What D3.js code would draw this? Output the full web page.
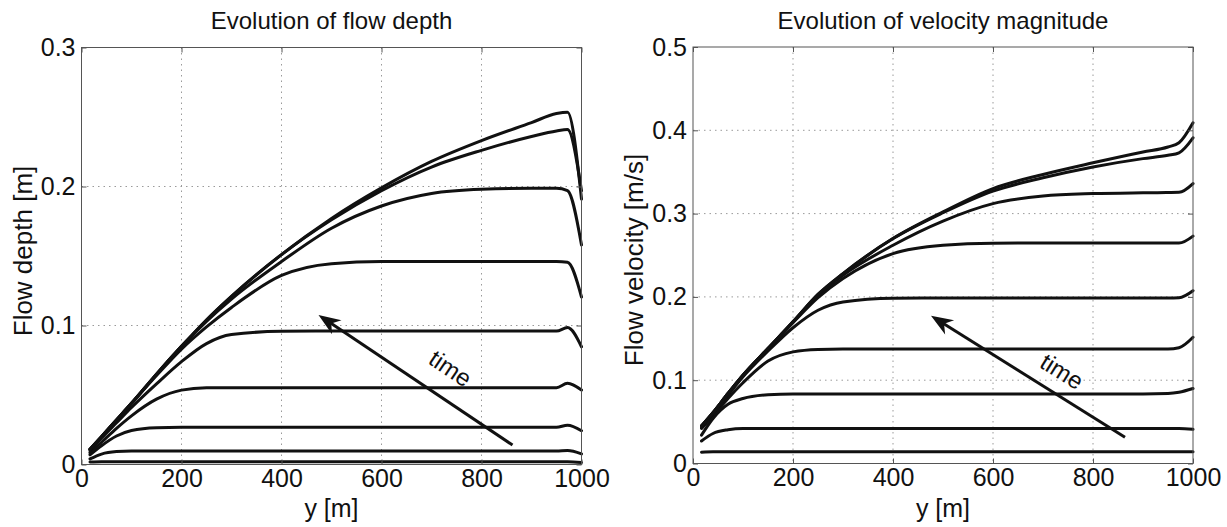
<!DOCTYPE html>
<html><head><meta charset="utf-8">
<script src="https://cdn.jsdelivr.net/npm/d3@7"></script>
<style>
body{margin:0;background:#fff;}
svg{display:block;font-family:"Liberation Sans",Arial,Helvetica,sans-serif;}
</style></head><body>
<svg id="chart" width="1227" height="527"></svg>
<script>
// ---------- data ----------
const xPos = [17,40,70,100,150,200,250,300,400,500,600,700,800,900,950,972,1000];
const xTicks = [0,200,400,600,800,1000];
const depthTicks = [0,0.1,0.2,0.3];
const velTicks = [0,0.1,0.2,0.3,0.4,0.5];

const depth1 = [0.011,0.020,0.032,0.044,0.065,0.085,0.104,0.121,0.151,0.177,0.199,0.218,0.233,0.246,0.2525,0.2535,0.191];
const depth2 = [0.011,0.020,0.032,0.044,0.065,0.085,0.104,0.121,0.151,0.176,0.197,0.214,0.226,0.236,0.240,0.241,0.197];
const depth3 = [0.011,0.020,0.032,0.044,0.065,0.085,0.103,0.119,0.146,0.170,0.186,0.195,0.198,0.1987,0.1987,0.197,0.158];
const depth4 = [0.011,0.020,0.032,0.044,0.064,0.083,0.099,0.113,0.136,0.1445,0.146,0.146,0.146,0.146,0.146,0.1455,0.1205];
const depth5 = [0.010,0.019,0.030,0.041,0.058,0.074,0.087,0.0935,0.0958,0.096,0.096,0.096,0.096,0.096,0.096,0.0985,0.0847];
const depth6 = [0.0085,0.016,0.026,0.035,0.047,0.0535,0.0552,0.0553,0.0553,0.0553,0.0553,0.0553,0.0553,0.0553,0.0553,0.0585,0.0536];
const depth7 = [0.007,0.0135,0.0205,0.0245,0.0265,0.0268,0.0268,0.0268,0.0268,0.0268,0.0268,0.0268,0.0268,0.0268,0.0268,0.0283,0.0243];
const depth8 = [0.004,0.0075,0.0093,0.0097,0.0097,0.0097,0.0097,0.0097,0.0097,0.0097,0.0097,0.0097,0.0097,0.0097,0.0097,0.0100,0.0076];
const depth9 = [0.0018,0.002,0.002,0.002,0.002,0.002,0.002,0.002,0.002,0.002,0.002,0.002,0.002,0.002,0.002,0.002,0.0015];

const vel1 = [0.045,0.061,0.084,0.106,0.138,0.170,0.203,0.228,0.270,0.302,0.330,0.347,0.361,0.374,0.380,0.385,0.409];
const vel2 = [0.045,0.061,0.084,0.106,0.138,0.170,0.203,0.228,0.270,0.301,0.327,0.343,0.356,0.366,0.370,0.373,0.391];
const vel3 = [0.045,0.061,0.084,0.106,0.138,0.170,0.202,0.226,0.262,0.291,0.312,0.321,0.324,0.325,0.3253,0.3255,0.336];
const vel4 = [0.045,0.061,0.084,0.106,0.138,0.169,0.199,0.222,0.252,0.262,0.2645,0.2646,0.2646,0.2646,0.2646,0.2646,0.273];
const vel5 = [0.044,0.060,0.082,0.104,0.135,0.163,0.184,0.194,0.1985,0.1987,0.1987,0.1987,0.1987,0.1987,0.1987,0.199,0.2074];
const vel6 = [0.042,0.057,0.078,0.097,0.123,0.134,0.137,0.1375,0.1375,0.1375,0.1375,0.1375,0.1375,0.1375,0.1375,0.139,0.1515];
const vel7 = [0.034,0.054,0.071,0.078,0.0825,0.0835,0.0835,0.0835,0.0835,0.0835,0.0835,0.0835,0.0835,0.0835,0.084,0.0855,0.090];
const vel8 = [0.027,0.036,0.0405,0.042,0.042,0.042,0.042,0.042,0.042,0.042,0.042,0.042,0.042,0.042,0.042,0.042,0.041];
const vel9 = [0.0135,0.014,0.014,0.014,0.014,0.014,0.014,0.014,0.014,0.014,0.014,0.014,0.014,0.014,0.014,0.014,0.014];

// annotation arrows (data units): [tail x, tail y, tip x, tip y], label position
const depthArrow = [862, 0.014, 474, 0.1076];
const depthLabel = [738, 0.0692];
const velArrow = [864, 0.0315, 476, 0.1775];
const velLabel = [738, 0.1107];

// ---------- drawing ----------
const svg = d3.select('#chart');

function panel(cfg) {
  const x = d3.scaleLinear().domain([0, 1000]).range([cfg.left, cfg.right]);
  const y = d3.scaleLinear().domain([0, cfg.ymax]).range([cfg.bottom, cfg.top]);
  const g = svg.append('g');

  // grid
  g.append('g').selectAll('line').data(xTicks.filter(d => d > 0 && d < 1000)).join('line')
    .attr('x1', d => x(d)).attr('x2', d => x(d)).attr('y1', cfg.top).attr('y2', cfg.bottom)
    .attr('stroke', '#9a9a9a').attr('stroke-width', 1).attr('stroke-dasharray', '1.5,4');
  g.append('g').selectAll('line').data(cfg.yTicks.filter(d => d > 0 && d < cfg.ymax)).join('line')
    .attr('y1', d => y(d)).attr('y2', d => y(d)).attr('x1', cfg.left).attr('x2', cfg.right)
    .attr('stroke', '#9a9a9a').attr('stroke-width', 1).attr('stroke-dasharray', '1.5,4');

  // curves
  const line = d3.line().x((d, i) => x(xPos[i])).y(d => y(d)).curve(d3.curveMonotoneX);
  g.append('g').selectAll('path').data(cfg.series).join('path')
    .attr('d', d => line(d)).attr('fill', 'none').attr('stroke', '#111')
    .attr('stroke-width', 3).attr('stroke-linejoin', 'round').attr('stroke-linecap', 'round');

  // axes
  const fmtY = d => d === 0 ? '0' : d3.format('.1f')(d);
  const ax = g.append('g').attr('transform', `translate(0,${cfg.bottom})`)
    .call(d3.axisBottom(x).tickValues(xTicks).tickSize(-5).tickSizeOuter(0).tickPadding(5).tickFormat(d3.format('d')));
  const ay = g.append('g').attr('transform', `translate(${cfg.left},0)`)
    .call(d3.axisLeft(y).tickValues(cfg.yTicks).tickSize(-5).tickSizeOuter(0).tickPadding(6).tickFormat(fmtY));
  const at = g.append('g').attr('transform', `translate(0,${cfg.top})`)
    .call(d3.axisTop(x).tickValues(xTicks).tickSize(-5).tickSizeOuter(0).tickFormat(''));
  const ar = g.append('g').attr('transform', `translate(${cfg.right},0)`)
    .call(d3.axisRight(y).tickValues(cfg.yTicks).tickSize(-5).tickSizeOuter(0).tickFormat(''));
  [ax, ay, at, ar].forEach(a => {
    a.select('.domain').remove();
    a.selectAll('line').attr('stroke', '#555');
    a.selectAll('text').attr('font-size', 25).attr('fill', '#111')
      .attr('font-family', '"Liberation Sans",Arial,sans-serif');
  });
  g.append('rect').attr('x', cfg.left).attr('y', cfg.top)
    .attr('width', cfg.right - cfg.left).attr('height', cfg.bottom - cfg.top)
    .attr('fill', 'none').attr('stroke', '#555').attr('stroke-width', 1);

  // title & labels
  const cx = (cfg.left + cfg.right) / 2;
  g.append('text').attr('x', cx).attr('y', 29)
    .attr('text-anchor', 'middle').attr('font-size', 24).attr('fill', '#111').text(cfg.title);
  g.append('text').attr('x', cx).attr('y', 517)
    .attr('text-anchor', 'middle').attr('font-size', 25).attr('fill', '#111').text('y [m]');
  g.append('text').attr('transform', `translate(${cfg.ylabX},${cfg.ylabY}) rotate(-90)`)
    .attr('text-anchor', 'middle').attr('font-size', 26).attr('fill', '#111').text(cfg.ylabel);

  // arrow
  const [x0, y0, x1, y1] = cfg.arrow;
  const p0 = [x(x0), y(y0)], p1 = [x(x1), y(y1)];
  const dx = p1[0] - p0[0], dy = p1[1] - p0[1], len = Math.hypot(dx, dy);
  const ux = dx / len, uy = dy / len, nx = -uy, ny = ux;
  const L = 22, w = 8.5;
  g.append('line').attr('x1', p0[0]).attr('y1', p0[1])
    .attr('x2', p1[0] - ux * L * 0.6).attr('y2', p1[1] - uy * L * 0.6)
    .attr('stroke', '#111').attr('stroke-width', 3);
  const head = [
    [p1[0], p1[1]],
    [p1[0] - ux * L + nx * w, p1[1] - uy * L + ny * w],
    [p1[0] - ux * L * 0.7, p1[1] - uy * L * 0.7],
    [p1[0] - ux * L - nx * w, p1[1] - uy * L - ny * w]
  ];
  g.append('path').attr('d', d3.line()(head) + 'Z').attr('fill', '#111');
  const ang = Math.atan2(-dy, -dx) * 180 / Math.PI;
  g.append('text')
    .attr('transform', `translate(${x(cfg.label[0])},${y(cfg.label[1])}) rotate(${ang})`)
    .attr('text-anchor', 'middle').attr('dominant-baseline', 'central')
    .attr('font-size', 24).attr('fill', '#111').text('time');
}

panel({
  left: 81.5, right: 581.5, top: 47.5, bottom: 464.5, ymax: 0.3, yTicks: depthTicks,
  series: [depth9, depth8, depth7, depth6, depth5, depth4, depth3, depth2, depth1],
  title: 'Evolution of flow depth', ylabel: 'Flow depth [m]', ylabX: 32, ylabY: 251,
  arrow: depthArrow, label: depthLabel
});
panel({
  left: 693, right: 1193, top: 47, bottom: 463.5, ymax: 0.5, yTicks: velTicks,
  series: [vel9, vel8, vel7, vel6, vel5, vel4, vel3, vel2, vel1],
  title: 'Evolution of velocity magnitude', ylabel: 'Flow velocity [m/s]', ylabX: 643, ylabY: 260,
  arrow: velArrow, label: velLabel
});
</script>
</body></html>
